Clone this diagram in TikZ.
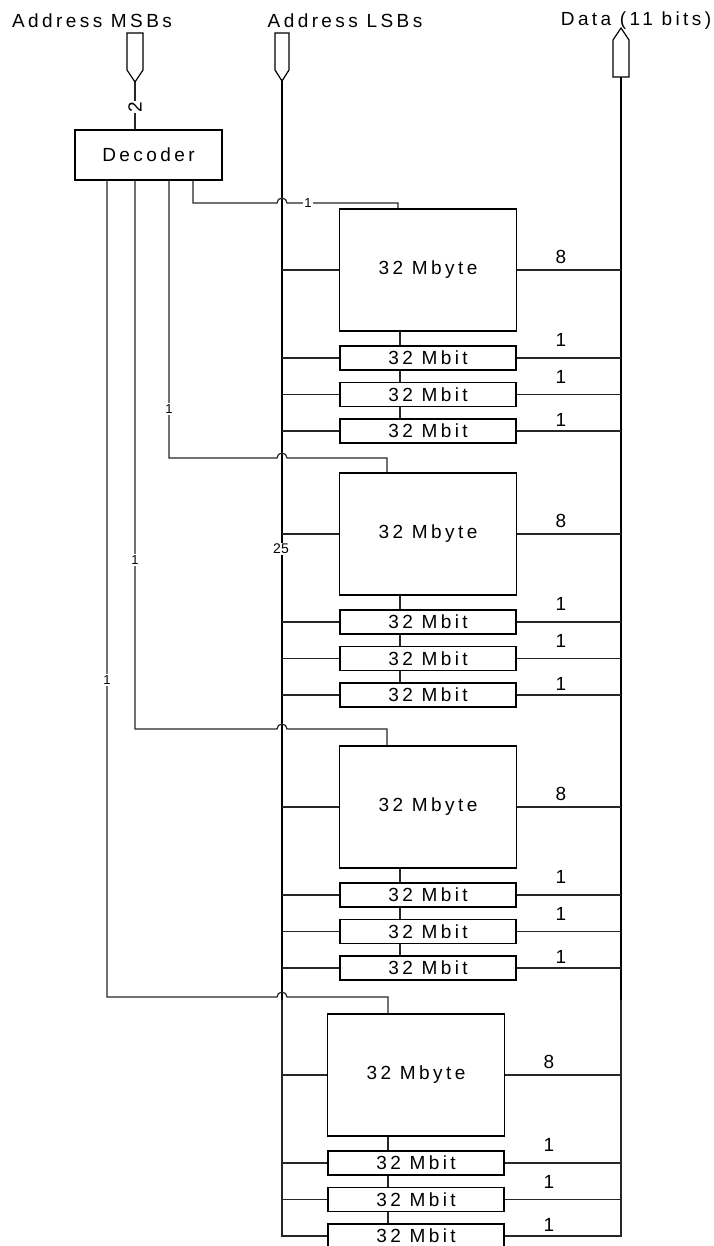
\documentclass[tikz,border=0pt]{standalone}
\usepackage{fontspec}
\setmainfont{Liberation Sans}
\newfontfamily\spacedfont[LetterSpace=18]{Liberation Sans}
\usetikzlibrary{positioning,calc}

\begin{document}
\begin{tikzpicture}[x=0.5pt, y=-0.5pt,
  blk/.style={draw, line width=0.6pt, inner sep=0pt,
    font=\spacedfont\fontsize{9.5}{11}\selectfont},
  mbyte/.style={blk, minimum width=88.5pt, minimum height=61pt},
  mbit/.style={blk, minimum width=88pt, minimum height=12pt},
  wire/.style={draw=black!85, line width=0.6pt},
  bus/.style={draw, line width=1.1pt},
  port/.style={draw, line width=0.6pt, fill=white},
  tag/.style={fill=white, inner sep=0.6pt, font=\fontsize{6.5}{7}\selectfont},
  bits/.style={inner sep=0pt, font=\fontsize{9.5}{11}\selectfont},
  title/.style={inner sep=0pt, font=\spacedfont\fontsize{9.5}{11}\selectfont}]
  \useasboundingbox (0,0) rectangle (713,1246);

  % bus titles
  \node[title] (tmsb) at (92,21) {Address MSBs};
  \node[title] (tlsb) at (345,21) {Address LSBs};
  \node[title] (tdat) at (636,21) {Data (11 bits)};

  % ports
  \coordinate (msb) at (135,82);
  \coordinate (lsb) at (282,81);
  \coordinate (lsbmid) at (282,1000);
  \coordinate (lsbend) at (282,1237);
  \coordinate (dat) at (621,77);
  \coordinate (datmid) at (621,1000);
  \coordinate (datend) at (621,1237);
  \draw[port] (127,33) -- (143,33) -- (143,70) -- (msb) -- (127,70) -- cycle;
  \draw[port] (275,33) -- (289,33) -- (289,70) -- (lsb) -- (275,70) -- cycle;
  \draw[port] (613,77) -- (613,40) -- (621,28) -- (629,40) -- (629,77) -- cycle;

  \draw[bus] (lsb) -- (lsbmid);
  \draw[wire] (lsbmid) -- (lsbend);
  \draw[bus] (dat) -- (datmid);
  \draw[wire] (datmid) -- (datend);

  \node[blk, minimum width=73.5pt, minimum height=25pt] (dec) at (148.5,155) {Decoder};
  \draw[wire] (msb) -- (dec.north -| msb);
  \node[tag, rotate=90, font=\fontsize{9.5}{11}\selectfont] (two) at (135,107) {2};

  \foreach \g/\cx/\ty/\jx/\jy/\dx/\tx/\tyy in
      {1/428/209/193/203/398/308/203, 2/428/473/169/458/387/169/409,
       3/428/746/135/729/387/135/560, 4/416/1014/107/997/388/107/680}{
    \node[mbyte] (mb\g) at (\cx,\ty+61) {32 Mbyte};
    \draw[wire] (mb\g.west) -- (mb\g.west -| lsb);
    \draw[wire] (mb\g.east) -- (mb\g.east -| dat);
    \node[bits] (eight\g) at (\cx+133,\ty+48) {8};
    \foreach \n/\dy/\ly in {1/149/18, 2/185.5/18, 3/222/11}{
      \node[mbit] (mbit\g-\n) at (\cx,\ty+\dy) {32 Mbit};
      \draw[wire] (mbit\g-\n.west) -- (mbit\g-\n.west -| lsb);
      \draw[wire] (mbit\g-\n.east) -- (mbit\g-\n.east -| dat);
      \node[bits] (one\g-\n) at (\cx+133,\ty+\dy-\ly) {1};
    }
    \draw[wire] ([xshift=-14pt]mb\g.south) -- ([xshift=-14pt]mbit\g-1.north);
    \draw[wire] ([xshift=-14pt]mbit\g-1.south) -- ([xshift=-14pt]mbit\g-2.north);
    \draw[wire] ([xshift=-14pt]mbit\g-2.south) -- ([xshift=-14pt]mbit\g-3.north);
    % select line from the decoder, hopping over the address bus
    \draw[wire] (dec.south -| \jx,0) |- (277,\jy)
      arc[start angle=180, end angle=0, radius=2.5pt] -| (mb\g.north -| \dx,0);
    \node[tag] (sel\g) at (\tx,\tyy) {1};
  }

  \node[tag, font=\fontsize{7}{8}\selectfont] (width) at (281,549) {25};
\end{tikzpicture}
\end{document}
